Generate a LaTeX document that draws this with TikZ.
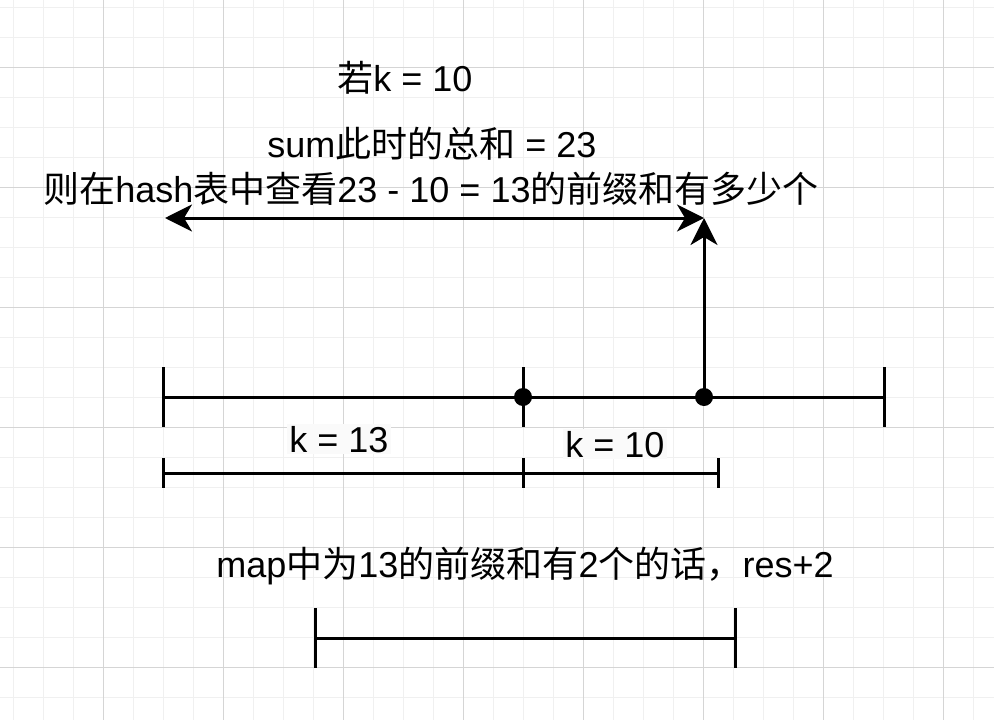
\documentclass[tikz,border=0pt]{standalone}
\usepackage{fontspec}
\setmainfont{Liberation Sans}
\newfontfamily\cjk{Noto Sans CJK SC}
\usepackage{tikz}
\usetikzlibrary{arrows.meta}
\definecolor{gridminor}{HTML}{F0F0F0}
\definecolor{gridmajor}{HTML}{D5D5D5}
\definecolor{lblback}{HTML}{FAFAFA}
\tikzset{
>={Stealth[length=27pt,width=27pt,inset=8pt]},
  seg/.style={draw, line width=3pt},
  bartick/.style={draw, line width=3pt},
  dotnode/.style={
    circle,
    fill=black,
    inner sep=0pt,
    minimum size=18pt},
  txt/.style={
    font=\fontsize{36}{43}\selectfont,
    inner sep=0pt,
    anchor=base},
  klbl/.style={txt, fill=lblback, inner sep=2pt},
}

\begin{document}
\begin{tikzpicture}[x=1pt, y=-1pt]
     \fill[white] (0,0) rectangle (994,720);
     \useasboundingbox (0,0) rectangle (994,720);
     % grid
     \foreach \i in {0,...,32} \draw[gridminor, line width=1pt] ({13.3+30*\i},0) -- ++(0,720);
     \foreach \i in {0,...,23} \draw[gridminor, line width=1pt] (0,{7+30*\i}) -- ++(994,0);
     \foreach \i in {0,...,7} \draw[gridmajor, line width=1pt] ({103.3+120*\i},0) -- ++(0,720);
     \foreach \i in {0,...,5} \draw[gridmajor, line width=1pt] (0,{67+120*\i}) -- ++(994,0);

     % texts
     \node[txt] (IfK)    at (405,91)  {{\cjk 若}k = 10};
     \node[txt] (SumNow) at (432,157) {sum{\cjk 此时的总和} = 23};
     \node[txt] (Lookup) at (431,202) {{\cjk 则在}hash{\cjk 表中查看}23 - 10 = 13{\cjk 的前缀和有多少个}};
     \node[txt] (Result) at (525,577) {map{\cjk 中为}13{\cjk 的前缀和有}2{\cjk 个的话，}res+2};

     % whole array
     \coordinate (ArrStart) at (163,397);
     \node[dotnode] (SplitDot) at (523,397) {};
     \node[dotnode] (CurDot)   at (704,397) {};
     \coordinate (ArrEnd)   at (884,397);
     \draw[seg] (ArrStart) -- (SplitDot.center) -- (CurDot.center) -- (ArrEnd);
     \foreach \p in {ArrStart, SplitDot.center, ArrEnd}
       \draw[bartick] (\p) ++(0,-30) -- ++(0,60);

     % query arrows
     \coordinate (QueryLeft)  at (165,218);
     \coordinate (QueryRight) at (704,218);
     \draw[seg, <->] (QueryLeft) -- (QueryRight);
     \draw[seg, ->] (CurDot.center) -- (QueryRight);

     % k parts
     \coordinate (PartStart) at (163,473);
     \coordinate (PartMid)   at (523,473);
     \coordinate (PartEnd)   at (718,473);
     \draw[seg] (PartStart) -- (PartMid) -- (PartEnd);
     \foreach \p in {PartStart, PartMid, PartEnd}
       \draw[bartick] (\p) ++(0,-15) -- ++(0,30);
     \node[klbl] (KThirteen) at (339,452) {k = 13};
     \node[klbl] (KTen)      at (615,457) {k = 10};

     % result range
     \coordinate (ResStart) at (315,638);
     \coordinate (ResEnd)   at (735,638);
     \draw[seg] (ResStart) -- (ResEnd);
     \foreach \p in {ResStart, ResEnd}
       \draw[bartick] (\p) ++(0,-30) -- ++(0,60);
\end{tikzpicture}
\end{document}
